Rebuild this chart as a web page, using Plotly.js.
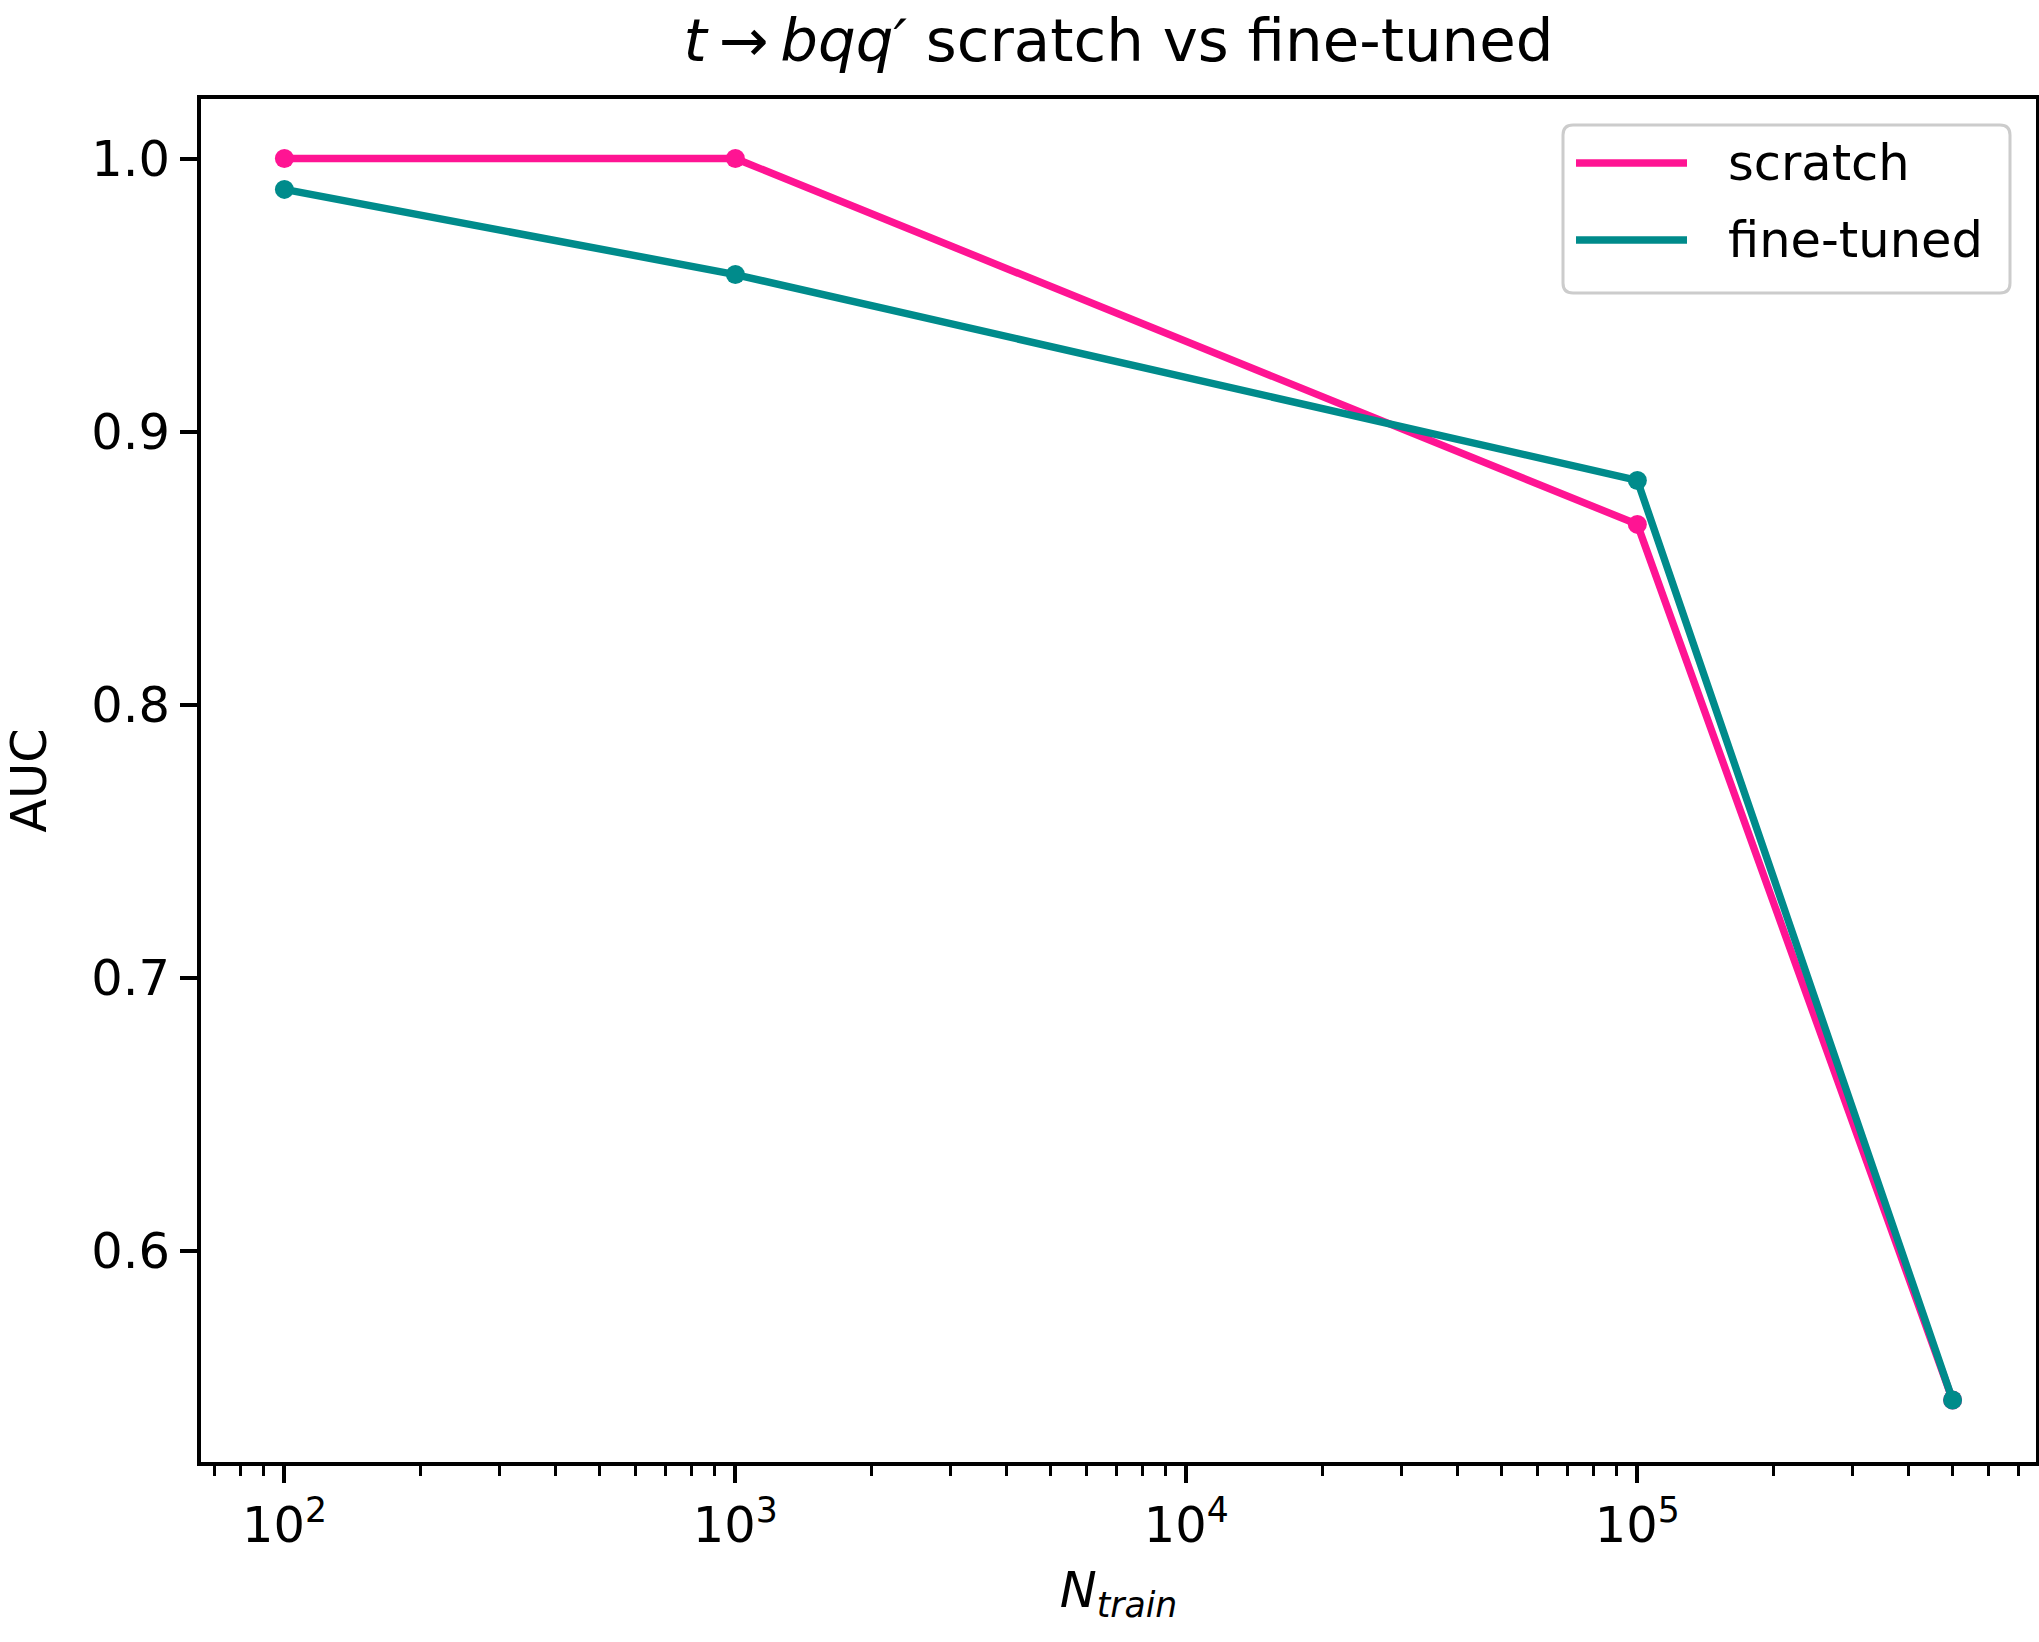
<!DOCTYPE html>
<html>
<head>
<meta charset="utf-8">
<script src="https://cdn.plot.ly/plotly-3.0.1.min.js"></script>
<style>
  html, body { margin: 0; padding: 0; background: #ffffff; }
  #chart { width: 2039px; height: 1642px; }
</style>
</head>
<body>
<div id="chart"></div>
<script>
// Training-set sizes and AUC for the two training strategies
const nTrain = [100, 1000, 100000, 500000];
const aucScratch = [1.0, 1.0, 0.866, 0.5453];
const aucFineTuned = [0.9887, 0.9575, 0.8821, 0.5453];

const seriesNames = ['scratch', 'fine-tuned'];
const seriesColors = ['#FF1493', '#008B8B'];

// Major x tick labels (log axis, powers of ten)
const xTickVals = [100, 1000, 10000, 100000];
const xTickText = ['10<sup>2</sup>', '10<sup>3</sup>', '10<sup>4</sup>', '10<sup>5</sup>'];
const yTickVals = [0.6, 0.7, 0.8, 0.9, 1.0];

// Minor ticks at 2..9 times each power of ten
const xMinorVals = [];
for (let e = 1; e <= 5; e++) {
  for (let m = 2; m <= 9; m++) xMinorVals.push(m * Math.pow(10, e));
}

const W = 2039, H = 1642;
const M = { l: 201, r: 3, t: 99, b: 180 };
const PW = W - M.l - M.r, PH = H - M.t - M.b;
const px = x => (x - M.l) / PW;          // page pixel -> paper x
const py = y => (H - M.b - y) / PH;      // page pixel -> paper y

const FONT = 'DejaVu Sans, sans-serif';
const FS = 49.5;
const LW = 7.4;

const traces = [
  {
    x: nTrain, y: aucScratch, name: seriesNames[0],
    type: 'scatter', mode: 'lines+markers',
    line: { color: seriesColors[0], width: LW },
    marker: { color: seriesColors[0], size: 19 },
    showlegend: false
  },
  {
    x: nTrain, y: aucFineTuned, name: seriesNames[1],
    type: 'scatter', mode: 'lines+markers',
    line: { color: seriesColors[1], width: LW },
    marker: { color: seriesColors[1], size: 19 },
    showlegend: false
  }
];

// Legend box drawn as a rounded frame with line handles
const box = { x0: 1563, x1: 2010, y0: 125, y1: 293, r: 10 };
const rx = box.r / PW, ry = box.r / PH;
const bx0 = px(box.x0), bx1 = px(box.x1), by0 = py(box.y1), by1 = py(box.y0);
const framePath =
  `M ${bx0 + rx},${by0} L ${bx1 - rx},${by0} Q ${bx1},${by0} ${bx1},${by0 + ry} ` +
  `L ${bx1},${by1 - ry} Q ${bx1},${by1} ${bx1 - rx},${by1} ` +
  `L ${bx0 + rx},${by1} Q ${bx0},${by1} ${bx0},${by1 - ry} ` +
  `L ${bx0},${by0 + ry} Q ${bx0},${by0} ${bx0 + rx},${by0} Z`;

const legendRows = [163, 240];
const shapes = [
  {
    type: 'path', xref: 'paper', yref: 'paper', path: framePath,
    fillcolor: 'rgba(255,255,255,0.8)', line: { color: '#cccccc', width: 3 }
  }
];
const annotations = [];
seriesNames.forEach((name, i) => {
  shapes.push({
    type: 'line', xref: 'paper', yref: 'paper',
    x0: px(1576), x1: px(1687), y0: py(legendRows[i]), y1: py(legendRows[i]),
    line: { color: seriesColors[i], width: LW }
  });
  annotations.push({
    xref: 'paper', yref: 'paper', x: px(1726), y: py(legendRows[i]),
    xanchor: 'left', yanchor: 'middle', showarrow: false,
    text: name, font: { family: FONT, size: FS, color: '#000000' }
  });
});

const layout = {
  width: W, height: H,
  margin: M,
  paper_bgcolor: '#ffffff', plot_bgcolor: '#ffffff',
  font: { family: FONT, size: FS, color: '#000000' },
  showlegend: false,
  title: {
    text: '<i>t</i>\u2009\u2192\u2009<i>bqq\u2032</i> scratch vs fine-tuned',
    font: { family: FONT, size: 59.4, color: '#000000' },
    xref: 'paper', x: 0.5, xanchor: 'center',
    yref: 'container', y: 1 - 61 / H, yanchor: 'bottom'
  },
  xaxis: {
    type: 'log',
    range: [1.81505, 5.88392],
    tickmode: 'array', tickvals: xTickVals, ticktext: xTickText,
    ticks: 'outside', ticklen: 17, tickwidth: 4, tickcolor: '#000000',
    tickfont: { family: FONT, size: FS, color: '#000000' },
    minor: {
      tickmode: 'array', tickvals: xMinorVals,
      ticks: 'outside', ticklen: 10, tickwidth: 3, tickcolor: '#000000', showgrid: false
    },
    showline: true, linecolor: '#000000', linewidth: 4, mirror: true,
    showgrid: false, zeroline: false,
    title: {
      text: '<i>N</i><sub><i>train</i></sub>',
      font: { family: FONT, size: FS, color: '#000000' },
      standoff: 20
    }
  },
  yaxis: {
    range: [0.5226, 1.0218],
    tickmode: 'array', tickvals: yTickVals, tickformat: '.1f',
    ticks: 'outside', ticklen: 17, tickwidth: 4, tickcolor: '#000000',
    tickfont: { family: FONT, size: FS, color: '#000000' },
    showline: true, linecolor: '#000000', linewidth: 4, mirror: true,
    showgrid: false, zeroline: false,
    title: {
      text: 'AUC',
      font: { family: FONT, size: FS, color: '#000000' },
      standoff: 30
    }
  },
  shapes: shapes,
  annotations: annotations
};

Plotly.newPlot('chart', traces, layout, { staticPlot: true, displayModeBar: false });
</script>
</body>
</html>
